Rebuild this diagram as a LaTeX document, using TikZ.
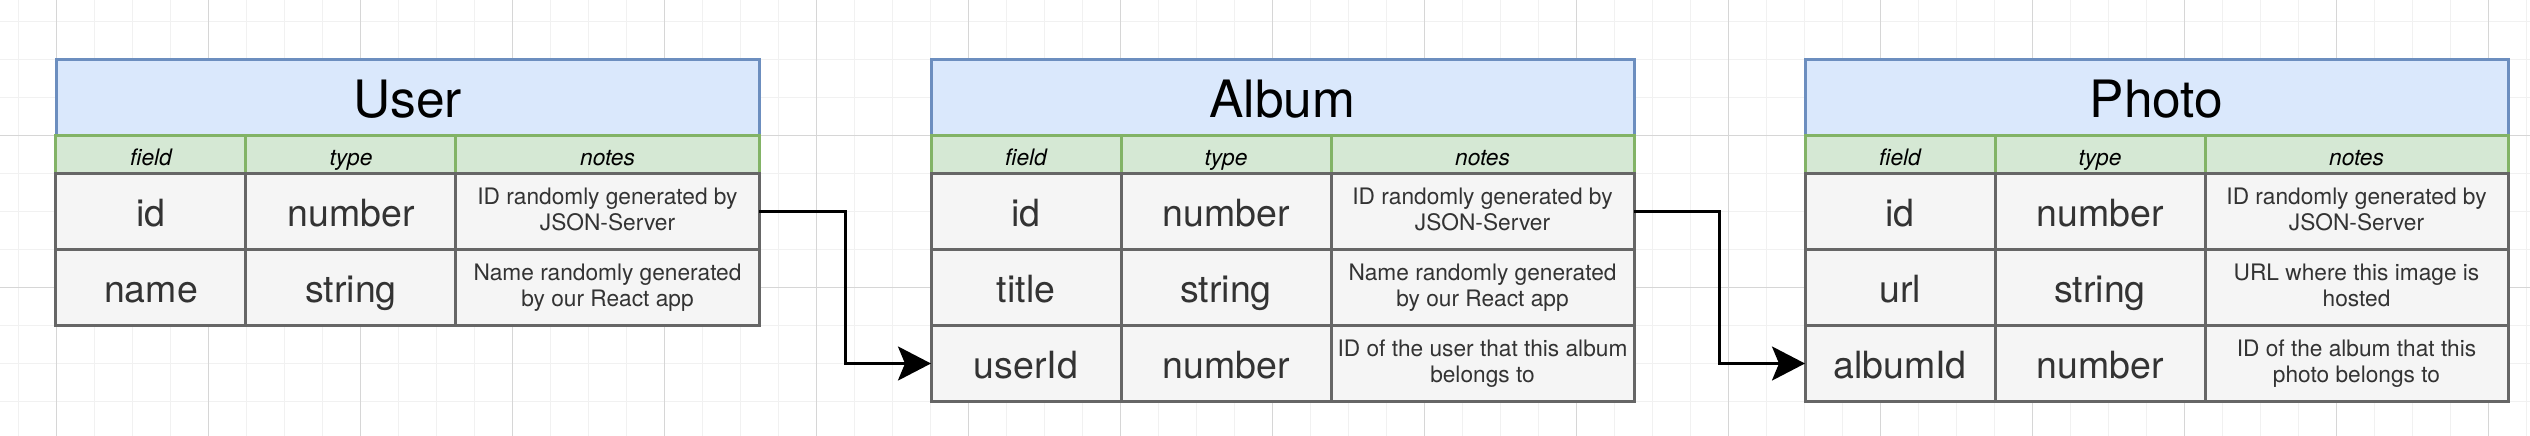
\documentclass[tikz,border=0pt]{standalone}
\usepackage{fontspec}
\setmainfont{TeX Gyre Heros}
\usepackage{tikz}
\usetikzlibrary{calc,positioning,arrows.meta}
\definecolor{ttlfill}{HTML}{DAE8FC}
\definecolor{ttlline}{HTML}{6C8EBF}
\definecolor{hdfill}{HTML}{D5E8D4}
\definecolor{hdline}{HTML}{82B366}
\definecolor{clfill}{HTML}{F5F5F5}
\definecolor{clline}{HTML}{666666}
\definecolor{cltext}{HTML}{333333}
\definecolor{gridminor}{HTML}{F1F1F1}
\definecolor{gridmajor}{HTML}{D6D6D6}

\begin{document}
\begin{tikzpicture}[x=1pt, y=-1pt,
    ttl/.style={draw=ttlline, fill=ttlfill, line width=3pt, minimum width=703pt, minimum height=76pt,
      inner sep=0pt, outer sep=0pt, text height=39pt, text depth=0pt, font=\fontsize{51.5}{60}\selectfont},
    tbl/.style={inner sep=0pt, outer sep=0pt, column sep=-3pt, row sep=-3pt, ampersand replacement=\&},
    hd/.style={draw=hdline, fill=hdfill, line width=3pt, minimum height=38pt, inner sep=0pt, outer sep=0pt,
      text height=21pt, text depth=0pt, font=\fontsize{22.7}{26}\selectfont\itshape},
    cl/.style={draw=clline, fill=clfill, text=cltext, line width=3pt, minimum height=76pt, inner sep=0pt,
      outer sep=0pt, text height=29pt, text depth=0pt, font=\fontsize{37.5}{44}\selectfont},
    nt/.style={draw=clline, fill=clfill, text=cltext, line width=3pt, minimum height=76pt, inner sep=0pt,
      outer sep=0pt, align=center, font=\fontsize{22.7}{26.5}\selectfont,
      execute at begin node=\rule[-5pt]{0pt}{31.5pt}, execute at end node=\rule[-5pt]{0pt}{10pt}},
    cf/.style={minimum width=190pt},
    ct/.style={minimum width=210pt},
    cn/.style={minimum width=303pt},
    link/.style={line width=3pt, -{Stealth[length=33pt, width=34pt, inset=7pt]}}]

  \fill[white] (0,0) rectangle (2530,436);
  \useasboundingbox (0,0) rectangle (2530,436);

  % grid
  \foreach \i in {-1,...,65}
    \draw[gridminor, line width=1.5pt] ({56.5+38*\i},0) -- ({56.5+38*\i},436);
  \foreach \j in {-3,...,7}
    \draw[gridminor, line width=1.5pt] (0,{135.7+38*\j}) -- (2530,{135.7+38*\j});
  \foreach \i in {0,...,16}
    \draw[gridmajor, line width=1pt] ({56.5+152*\i},0) -- ({56.5+152*\i},436);
  \foreach \j in {0,1}
    \draw[gridmajor, line width=1pt] (0,{135.7+152*\j}) -- (2530,{135.7+152*\j});

  % User
  \node[ttl] (userH) at (407.5,97.5) {User};
  \matrix (userT) [tbl, below=-1.5pt of userH] {
    \node[hd,cf] (ur1c1) {field}; \& \node[hd,ct] (ur1c2) {type}; \& \node[hd,cn] (ur1c3) {notes};\\
    \node[cl,cf] (ur2c1) {id};    \& \node[cl,ct] (ur2c2) {number}; \& \node[nt,cn] (ur2c3) {ID randomly generated by\\JSON-Server};\\
    \node[cl,cf] (ur3c1) {name};  \& \node[cl,ct] (ur3c2) {string}; \& \node[nt,cn] (ur3c3) {Name randomly generated\\by our React app};\\
  };

  % Album
  \node[ttl] (albumH) at (1282.5,97.5) {Album};
  \matrix (albumT) [tbl, below=-1.5pt of albumH] {
    \node[hd,cf] (ar1c1) {field}; \& \node[hd,ct] (ar1c2) {type}; \& \node[hd,cn] (ar1c3) {notes};\\
    \node[cl,cf] (ar2c1) {id};     \& \node[cl,ct] (ar2c2) {number}; \& \node[nt,cn] (ar2c3) {ID randomly generated by\\JSON-Server};\\
    \node[cl,cf] (ar3c1) {title};  \& \node[cl,ct] (ar3c2) {string}; \& \node[nt,cn] (ar3c3) {Name randomly generated\\by our React app};\\
    \node[cl,cf] (ar4c1) {userId}; \& \node[cl,ct] (ar4c2) {number}; \& \node[nt,cn] (ar4c3) {ID of the user that this album\\belongs to};\\
  };

  % Photo
  \node[ttl] (photoH) at (2156.5,97.5) {Photo};
  \matrix (photoT) [tbl, below=-1.5pt of photoH] {
    \node[hd,cf] (pr1c1) {field}; \& \node[hd,ct] (pr1c2) {type}; \& \node[hd,cn] (pr1c3) {notes};\\
    \node[cl,cf] (pr2c1) {id};      \& \node[cl,ct] (pr2c2) {number}; \& \node[nt,cn] (pr2c3) {ID randomly generated by\\JSON-Server};\\
    \node[cl,cf] (pr3c1) {url};     \& \node[cl,ct] (pr3c2) {string}; \& \node[nt,cn] (pr3c3) {URL where this image is\\hosted};\\
    \node[cl,cf] (pr4c1) {albumId}; \& \node[cl,ct] (pr4c2) {number}; \& \node[nt,cn] (pr4c3) {ID of the album that this\\photo belongs to};\\
  };

  % links
  \coordinate (bendUA) at ($(ur2c3.east)!.5!(ar4c1.west)$);
  \coordinate (bendAP) at ($(ar2c3.east)!.5!(pr4c1.west)$);
  \draw[link] (ur2c3.east) -| (bendUA) |- (ar4c1.west);
  \draw[link] (ar2c3.east) -| (bendAP) |- (pr4c1.west);
\end{tikzpicture}
\end{document}
